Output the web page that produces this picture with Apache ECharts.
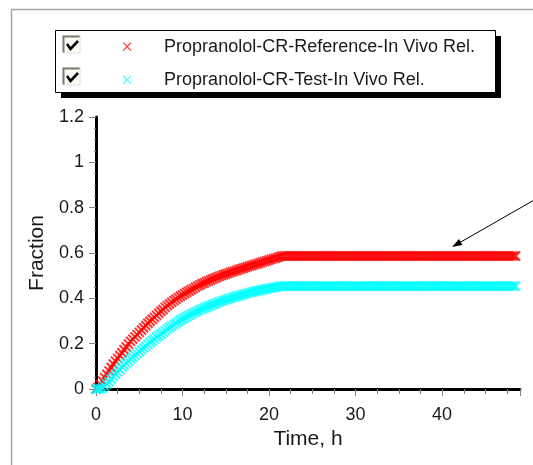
<!DOCTYPE html>
<html>
<head>
<meta charset="utf-8">
<script src="https://cdn.jsdelivr.net/npm/echarts@6/dist/echarts.min.js"></script>
<style>
  html, body { margin: 0; padding: 0; background: #fff; }
  #chart { width: 533px; height: 465px; }
</style>
</head>
<body>
<div id="chart"></div>
<script>
// time points, h
const timeH = [
  0, 0.25, 0.5, 0.75, 1, 1.25, 1.5, 1.75, 2, 2.25, 2.5, 2.75,
  3, 3.25, 3.5, 3.75, 4, 4.25, 4.5, 4.75, 5, 5.25, 5.5, 5.75,
  6, 6.25, 6.5, 6.75, 7, 7.25, 7.5, 7.75, 8, 8.25, 8.5, 8.75,
  9, 9.25, 9.5, 9.75, 10, 10.25, 10.5, 10.75, 11, 11.25, 11.5, 11.75,
  12, 12.25, 12.5, 12.75, 13, 13.25, 13.5, 13.75, 14, 14.25, 14.5, 14.75,
  15, 15.25, 15.5, 15.75, 16, 16.25, 16.5, 16.75, 17, 17.25, 17.5, 17.75,
  18, 18.25, 18.5, 18.75, 19, 19.25, 19.5, 19.75, 20, 20.25, 20.5, 20.75,
  21, 21.25, 21.5, 21.75, 22, 22.25, 22.5, 22.75, 23, 23.25, 23.5, 23.75,
  24, 24.25, 24.5, 24.75, 25, 25.25, 25.5, 25.75, 26, 26.25, 26.5, 26.75,
  27, 27.25, 27.5, 27.75, 28, 28.25, 28.5, 28.75, 29, 29.25, 29.5, 29.75,
  30, 30.25, 30.5, 30.75, 31, 31.25, 31.5, 31.75, 32, 32.25, 32.5, 32.75,
  33, 33.25, 33.5, 33.75, 34, 34.25, 34.5, 34.75, 35, 35.25, 35.5, 35.75,
  36, 36.25, 36.5, 36.75, 37, 37.25, 37.5, 37.75, 38, 38.25, 38.5, 38.75,
  39, 39.25, 39.5, 39.75, 40, 40.25, 40.5, 40.75, 41, 41.25, 41.5, 41.75,
  42, 42.25, 42.5, 42.75, 43, 43.25, 43.5, 43.75, 44, 44.25, 44.5, 44.75,
  45, 45.25, 45.5, 45.75, 46, 46.25, 46.5, 46.75, 47, 47.25, 47.5, 47.75,
  48, 48.25, 48.5
];

// Propranolol-CR-Reference, in vivo released fraction
const refFrac = [
  0.000, 0.008, 0.020, 0.035, 0.050, 0.065, 0.080, 0.095, 0.110, 0.123, 0.135, 0.148,
  0.160, 0.173, 0.185, 0.198, 0.210, 0.220, 0.230, 0.240, 0.250, 0.260, 0.270, 0.280,
  0.290, 0.299, 0.308, 0.316, 0.325, 0.334, 0.343, 0.351, 0.360, 0.368, 0.375, 0.383,
  0.390, 0.396, 0.403, 0.409, 0.415, 0.421, 0.427, 0.432, 0.438, 0.443, 0.449, 0.454,
  0.459, 0.464, 0.468, 0.473, 0.477, 0.481, 0.485, 0.489, 0.493, 0.497, 0.500, 0.504,
  0.507, 0.510, 0.514, 0.517, 0.520, 0.523, 0.527, 0.530, 0.533, 0.536, 0.539, 0.542,
  0.545, 0.548, 0.551, 0.554, 0.557, 0.560, 0.563, 0.566, 0.569, 0.572, 0.575, 0.577,
  0.580, 0.584, 0.587, 0.587, 0.587, 0.587, 0.587, 0.587, 0.587, 0.587, 0.587, 0.587,
  0.587, 0.587, 0.587, 0.587, 0.587, 0.587, 0.587, 0.587, 0.587, 0.587, 0.587, 0.587,
  0.587, 0.587, 0.587, 0.587, 0.587, 0.587, 0.587, 0.587, 0.587, 0.587, 0.587, 0.587,
  0.587, 0.587, 0.587, 0.587, 0.587, 0.587, 0.587, 0.587, 0.587, 0.587, 0.587, 0.587,
  0.587, 0.587, 0.587, 0.587, 0.587, 0.587, 0.587, 0.587, 0.587, 0.587, 0.587, 0.587,
  0.587, 0.587, 0.587, 0.587, 0.587, 0.587, 0.587, 0.587, 0.587, 0.587, 0.587, 0.587,
  0.587, 0.587, 0.587, 0.587, 0.587, 0.587, 0.587, 0.587, 0.587, 0.587, 0.587, 0.587,
  0.587, 0.587, 0.587, 0.587, 0.587, 0.587, 0.587, 0.587, 0.587, 0.587, 0.587, 0.587,
  0.587, 0.587, 0.587, 0.587, 0.587, 0.587, 0.587, 0.587, 0.587, 0.587, 0.587, 0.587,
  0.587, 0.587, 0.587
];

// Propranolol-CR-Test, in vivo released fraction
const testFrac = [
  0.000, 0.000, 0.000, 0.004, 0.012, 0.022, 0.032, 0.044, 0.055, 0.065, 0.075, 0.086,
  0.096, 0.105, 0.114, 0.123, 0.132, 0.140, 0.149, 0.157, 0.165, 0.173, 0.181, 0.189,
  0.197, 0.205, 0.213, 0.220, 0.228, 0.235, 0.243, 0.250, 0.257, 0.264, 0.271, 0.277,
  0.284, 0.290, 0.297, 0.303, 0.309, 0.314, 0.320, 0.325, 0.330, 0.335, 0.340, 0.344,
  0.349, 0.353, 0.357, 0.361, 0.365, 0.369, 0.373, 0.376, 0.380, 0.384, 0.387, 0.391,
  0.394, 0.397, 0.400, 0.403, 0.406, 0.409, 0.411, 0.414, 0.417, 0.420, 0.422, 0.425,
  0.427, 0.429, 0.432, 0.434, 0.436, 0.438, 0.440, 0.442, 0.444, 0.446, 0.448, 0.449,
  0.451, 0.453, 0.454, 0.454, 0.454, 0.454, 0.454, 0.454, 0.454, 0.454, 0.454, 0.454,
  0.454, 0.454, 0.454, 0.454, 0.454, 0.454, 0.454, 0.454, 0.454, 0.454, 0.454, 0.454,
  0.454, 0.454, 0.454, 0.454, 0.454, 0.454, 0.454, 0.454, 0.454, 0.454, 0.454, 0.454,
  0.454, 0.454, 0.454, 0.454, 0.454, 0.454, 0.454, 0.454, 0.454, 0.454, 0.454, 0.454,
  0.454, 0.454, 0.454, 0.454, 0.454, 0.454, 0.454, 0.454, 0.454, 0.454, 0.454, 0.454,
  0.454, 0.454, 0.454, 0.454, 0.454, 0.454, 0.454, 0.454, 0.454, 0.454, 0.454, 0.454,
  0.454, 0.454, 0.454, 0.454, 0.454, 0.454, 0.454, 0.454, 0.454, 0.454, 0.454, 0.454,
  0.454, 0.454, 0.454, 0.454, 0.454, 0.454, 0.454, 0.454, 0.454, 0.454, 0.454, 0.454,
  0.454, 0.454, 0.454, 0.454, 0.454, 0.454, 0.454, 0.454, 0.454, 0.454, 0.454, 0.454,
  0.454, 0.454, 0.454
];

const seriesNames = [
  'Propranolol-CR-Reference-In Vivo Rel.',
  'Propranolol-CR-Test-In Vivo Rel.'
];
const seriesColors = ['#ff0000', '#00ffff'];

const FONT = '"Liberation Sans", Arial, sans-serif';
const TEXT = '#1a1a1a';
const crossSymbol = 'path://M0,0L8,8M8,0L0,8';
// same cross, padded so it sits in the middle of a wide legend slot
const crossIcon = 'path://M0,0M64,20M28,6L36,14M36,6L28,14';

const myChart = echarts.init(document.getElementById('chart'), null, { renderer: 'canvas' });

const pairs = (vals) => timeH.map((t, i) => [t, vals[i]]);

const checkbox = (y) => [
  { type: 'rect', z: 3, shape: { x: 63, y: y, width: 17, height: 17 },
    style: { fill: '#fbfbf4', stroke: '#dcdcdc', lineWidth: 1 } },
  { type: 'polyline', z: 4, shape: { points: [[63.5, y + 16.5], [63.5, y + 0.5], [79.5, y + 0.5]] },
    style: { stroke: '#7a7a7a', lineWidth: 2, fill: null } },
  { type: 'polyline', z: 4, shape: { points: [[67, y + 8], [70.5, y + 13], [78, y + 5]] },
    style: { stroke: '#000', lineWidth: 2.6, fill: null } }
];

const option = {
  animation: false,
  backgroundColor: '#fff',
  grid: {
    left: 96,
    top: 117,
    width: 424,
    height: 272,
    show: true,
    borderColor: '#000',
    borderWidth: 2,
    backgroundColor: '#fff'
  },
  legend: {
    orient: 'vertical',
    left: 94.5,
    top: 36,
    padding: 0,
    itemWidth: 64,
    itemHeight: 20,
    itemGap: 12,
    selectedMode: false,
    z: 5,
    textStyle: { fontFamily: FONT, fontSize: 18, color: TEXT, lineHeight: 20 },
    data: seriesNames.map((n, i) => ({
      name: n,
      icon: crossIcon,
      itemStyle: { color: 'rgba(0,0,0,0)', borderColor: seriesColors[i], borderWidth: 1.2 }
    }))
  },
  xAxis: {
    type: 'value',
    min: 0,
    max: 49,
    interval: 10,
    name: 'Time, h',
    nameLocation: 'middle',
    nameGap: 40,
    nameTextStyle: { fontFamily: FONT, fontSize: 21, color: TEXT },
    axisLine: { lineStyle: { color: '#000', width: 3 } },
    axisTick: { show: true, length: 7, lineStyle: { color: '#808080', width: 1 } },
    minorTick: { show: true, splitNumber: 4, length: 5, lineStyle: { color: '#808080', width: 1 } },
    axisLabel: { fontFamily: FONT, fontSize: 18, color: TEXT, margin: 17, showMaxLabel: false },
    splitLine: { show: false }
  },
  yAxis: {
    type: 'value',
    min: 0,
    max: 1.2,
    interval: 0.2,
    name: 'Fraction',
    nameLocation: 'middle',
    nameGap: 46,
    nameTextStyle: { fontFamily: FONT, fontSize: 21, color: TEXT },
    axisLine: { lineStyle: { color: '#000', width: 3 } },
    axisTick: { show: true, length: 7, lineStyle: { color: '#808080', width: 1 } },
    minorTick: { show: true, splitNumber: 4, length: 2, lineStyle: { color: '#808080', width: 1 } },
    axisLabel: { fontFamily: FONT, fontSize: 18, color: TEXT, margin: 12 },
    splitLine: { show: false }
  },
  series: [refFrac, testFrac].map((vals, i) => ({
    name: seriesNames[i],
    type: 'scatter',
    symbol: crossSymbol,
    symbolSize: 9,
    itemStyle: { color: 'rgba(0,0,0,0)', borderColor: seriesColors[i], borderWidth: 2 },
    emphasis: { disabled: true },
    data: pairs(vals)
  })),
  graphic: {
    elements: [
      // outer panel
      { type: 'rect', z: 0, silent: true,
        shape: { x: 11.5, y: 9.5, width: 600, height: 600 },
        style: { fill: '#fff', stroke: '#a6a6a6', lineWidth: 1.5 } },
      // legend box with its drop shadow
      { type: 'rect', z: 1, shape: { x: 61, y: 36, width: 440, height: 62 }, style: { fill: '#000' } },
      { type: 'rect', z: 2, shape: { x: 55.5, y: 30.5, width: 440, height: 62 },
        style: { fill: '#fff', stroke: '#000', lineWidth: 1 } },
      ...checkbox(36),
      ...checkbox(68),
      // annotation arrow
      { type: 'line', z: 10, shape: { x1: 458, y1: 243.6, x2: 545, y2: 193.8 },
        style: { stroke: '#000', lineWidth: 1 } },
      { type: 'polygon', z: 10, shape: { points: [[452, 247], [462.4, 245], [459, 239]] },
        style: { fill: '#000' } }
    ]
  }
};

myChart.setOption(option);
</script>
</body>
</html>
